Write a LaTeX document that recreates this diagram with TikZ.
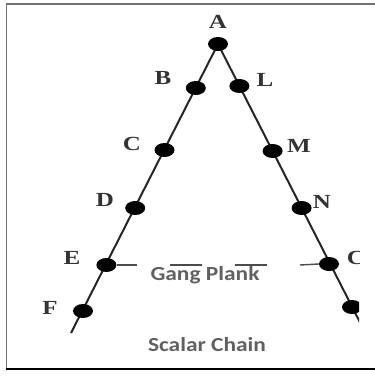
\documentclass[tikz,border=0pt]{standalone}
\usepackage{fontspec}
\usetikzlibrary{shapes.geometric}
\setmainfont{Liberation Serif}
\newfontfamily\calfont{Carlito}
\begin{document}
\begin{tikzpicture}[x=1pt,y=-1pt,
  dot/.style={ellipse,fill=black,minimum width=20pt,minimum height=14pt,inner sep=0pt},
  lbl/.style={font=\bfseries\fontsize{20}{20}\selectfont,text=black!80,inner sep=0pt,xscale=1.25,transform shape},
  chain/.style={line width=2pt,black!85},
  plank/.style={line width=1.4pt,black!70},
  captext/.style={font=\calfont\bfseries\fontsize{20}{20}\selectfont,text=black!62,inner sep=0pt,xscale=1.17,transform shape}]
\useasboundingbox (0,0) rectangle (375,378);
% frame
\draw[black!55,line width=1.5pt] (375,4) -- (6.5,4) -- (6.5,369);
\draw[black,line width=1.6pt] (6,369) -- (375,369);
\begin{scope}
\clip (0,0) rectangle (359,378);
\coordinate (Lend) at (71,333);
\coordinate (Rend) at (364.4,331);
\coordinate (Ptop) at (218,44);
\draw[chain] (Lend) -- (Ptop) -- (Rend);
\node[dot] (A) at (218,44) {};
\node[dot] (B) at (195.8,88) {};
\node[dot] (C) at (164.5,150) {};
\node[dot] (D) at (135.2,208) {};
\node[dot] (E) at (106.4,265) {};
\node[dot] (F) at (83,311) {};
\node[dot] (L) at (239.4,86) {};
\node[dot] (M) at (272.6,151) {};
\node[dot] (N) at (301.6,208) {};
\node[dot] (O) at (329,264) {};
\node[dot] (P) at (352,307) {};
% plank
\coordinate (pl1) at (137,265);
\coordinate (pl2) at (300,265);
\coordinate (o1a) at (170,265); \coordinate (o1b) at (202,265);
\coordinate (o2a) at (235,265); \coordinate (o2b) at (267,265);
\draw[plank] (E.east) -- (pl1);
\draw[plank] (pl2) -- (O.west);
\draw[plank] (o1a) -- (o1b);
\draw[plank] (o2a) -- (o2b);
\node[lbl] (lA) at (218,22) {A};
\node[lbl] (lB) at (163,78) {B};
\node[lbl] (lL) at (265,80) {L};
\node[lbl] (lC) at (132,144) {C};
\node[lbl] (lM) at (299,146) {M};
\node[lbl] (lD) at (105,200) {D};
\node[lbl] (lN) at (322,202) {N};
\node[lbl] (lE) at (72,258) {E};
\node[lbl] (lO) at (356,258) {C};
\node[lbl] (lF) at (50,308) {F};
\node[captext] (gp) at (205,275) {Gang Plank};
\node[captext] (sc) at (207,345) {Scalar Chain};
\end{scope}
\end{tikzpicture}
\end{document}
